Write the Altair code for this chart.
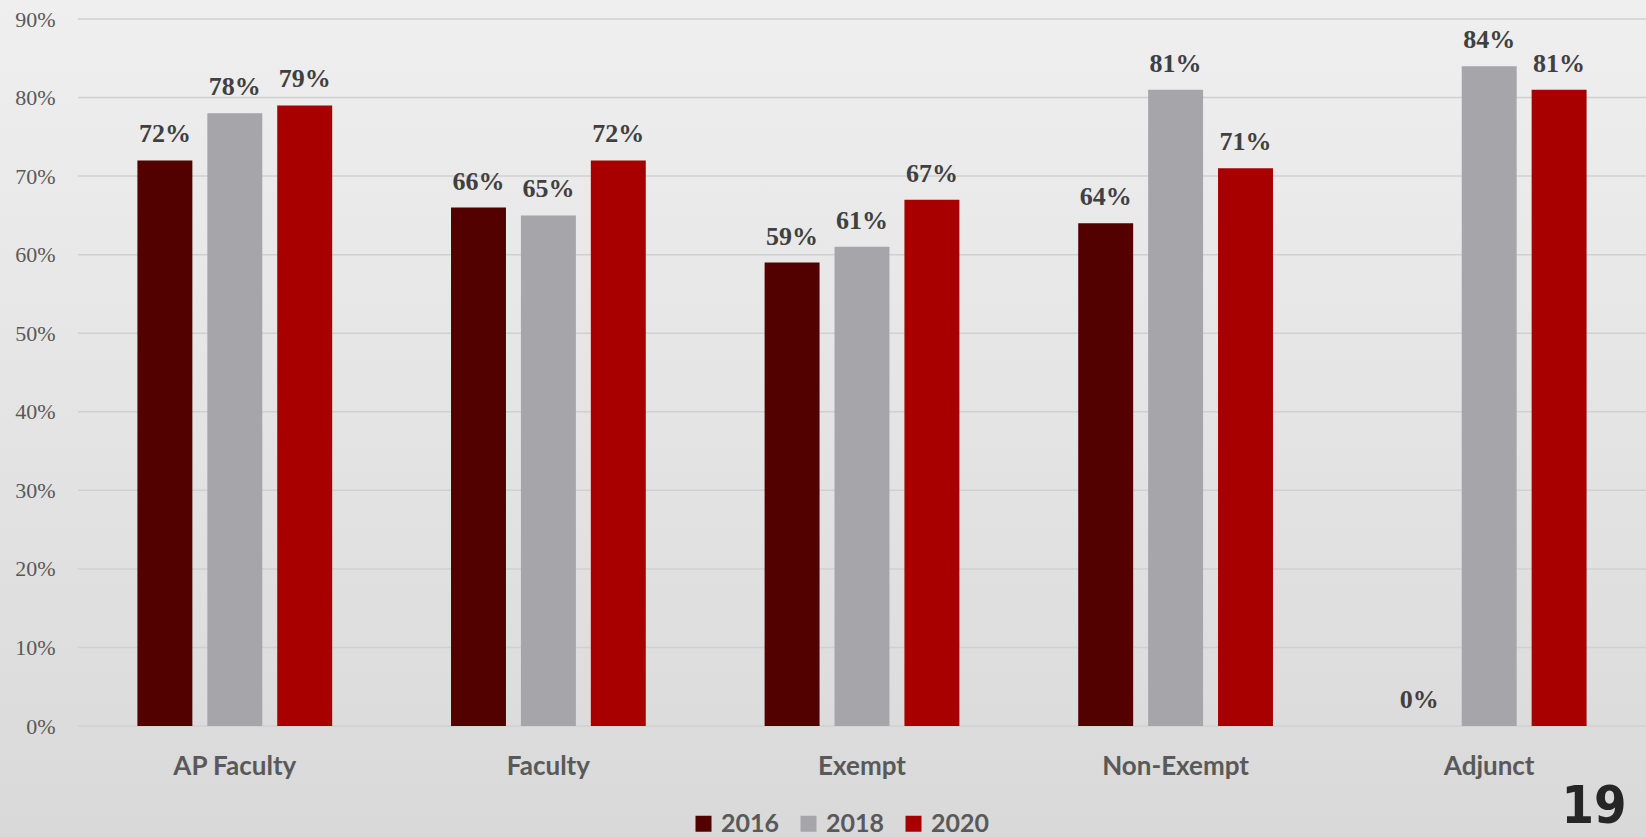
import altair as alt
import pandas as pd

categories = ["AP Faculty", "Faculty", "Exempt", "Non-Exempt", "Adjunct"]
years = ["2016", "2018", "2020"]
values_2016 = [0.72, 0.66, 0.59, 0.64, 0.00]
values_2018 = [0.78, 0.65, 0.61, 0.81, 0.84]
values_2020 = [0.79, 0.72, 0.67, 0.71, 0.81]
year_colors = ["#520000", "#a6a5aa", "#a80000"]
y_ticks = [0.0, 0.1, 0.2, 0.3, 0.4, 0.5, 0.6, 0.7, 0.8, 0.9]
page_number = "19"

rows = []
for i, c in enumerate(categories):
    for yr, vals in zip(years, [values_2016, values_2018, values_2020]):
        rows.append({"category": c, "year": yr, "value": vals[i]})
df = pd.DataFrame(rows)

W, H = 1568, 707
PL, PT, PB = 78, 19, 111

y_scale = alt.Scale(domain=[0, 0.9], nice=False, zero=True)

x_enc = alt.X(
    "category:N", sort=categories,
    scale=alt.Scale(paddingInner=0, paddingOuter=0),
    axis=alt.Axis(title=None, labelFont="Lato", labelFontWeight="bold", labelFontSize=26,
                  labelColor="#595959", labelPadding=48, labelBaseline="alphabetic",
                  ticks=False, domain=False, labelAngle=0, grid=False, zindex=1),
)
xoff_enc = alt.XOffset("year:N", sort=years,
                       scale=alt.Scale(paddingInner=0.214, paddingOuter=0.85))
y_enc = alt.Y(
    "value:Q", scale=y_scale,
    axis=alt.Axis(title=None, format=".0%", values=y_ticks, grid=False, domain=False,
                  ticks=False, tickSize=0, labelFont="Liberation Serif", labelFontSize=22,
                  labelColor="#595959", labelPadding=23, zindex=1),
)

bg = alt.Chart(alt.Data(values=[{"a": 1}])).mark_rect(
    fill=alt.LinearGradient(
        gradient="linear",
        stops=[alt.GradientStop(offset=0, color="#efefef"),
               alt.GradientStop(offset=1, color="#d9d9d9")],
        x1=0, x2=0, y1=0, y2=1,
    )
).encode(x=alt.value(-PL), x2=alt.value(W), y=alt.value(-PT), y2=alt.value(H + PB))

grid = alt.Chart(pd.DataFrame({"value": y_ticks})).mark_rule(
    color="#d0d0d0", strokeWidth=1.5
).encode(y=alt.Y("value:Q", scale=y_scale), x=alt.value(0), x2=alt.value(W))

bars = alt.Chart(df).mark_bar().encode(
    x=x_enc, xOffset=xoff_enc, y=y_enc,
    color=alt.Color("year:N", sort=years,
                    scale=alt.Scale(domain=years, range=year_colors),
                    legend=alt.Legend(title=None, orient="none", legendX=613, legendY=792,
                                      direction="horizontal", symbolType="square",
                                      symbolSize=256, symbolStrokeWidth=0,
                                      labelFont="Lato", labelFontWeight="bold",
                                      labelFontSize=25, labelColor="#595959",
                                      columnPadding=16, labelOffset=5, padding=0,
                                      zindex=1)),
)

labels = alt.Chart(df).mark_text(
    dy=-18, baseline="alphabetic", font="Liberation Serif", fontWeight="bold",
    fontSize=26, color="#404040"
).encode(x=x_enc, xOffset=xoff_enc, y=y_enc, text=alt.Text("value:Q", format=".0%"))

page = alt.Chart(alt.Data(values=[{"t": page_number}])).mark_text(
    font="Liberation Sans Narrow, DejaVu Sans Condensed, sans-serif", fontWeight="bold",
    fontSize=52, color="#262626", align="center", baseline="alphabetic"
).encode(x=alt.value(1516), y=alt.value(804), text="t:N")

chart = alt.layer(bg, grid, bars, labels, page).properties(
    width=W, height=H,
    padding={"left": PL, "top": PT, "right": 0, "bottom": PB},
    autosize=alt.AutoSizeParams(type="none"),
    background="#e5e5e5",
).configure_view(strokeWidth=0)

chart.save("out.html", embed_options={"renderer": "svg", "actions": False})
